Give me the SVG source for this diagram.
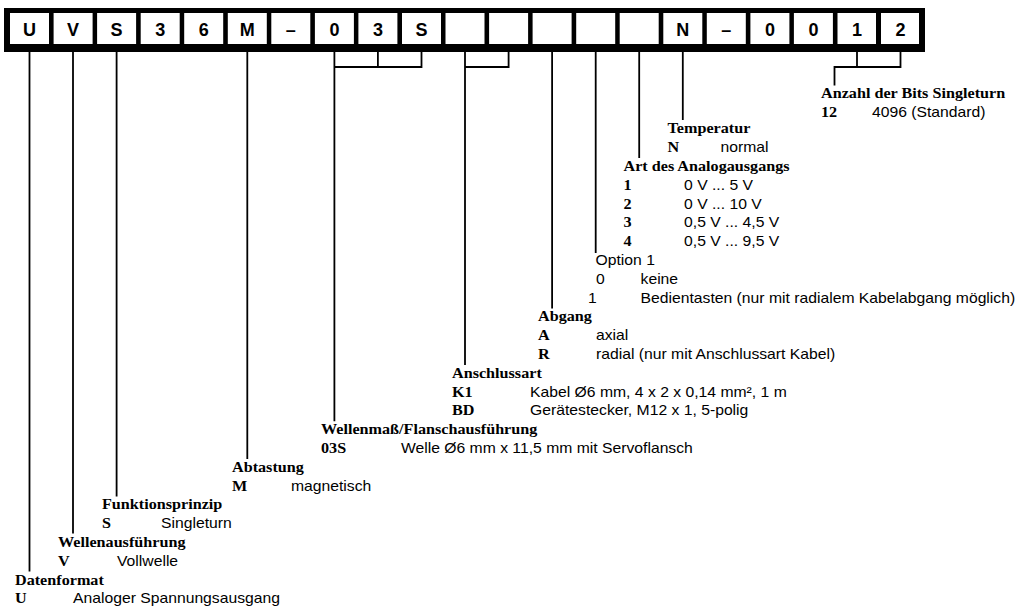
<svg xmlns="http://www.w3.org/2000/svg" width="1018" height="611" viewBox="0 0 1018 611">
<style>
.bg{fill:#fff}
.bar{fill:#000}
.box{fill:#fff}
.bl{font-family:"Liberation Sans",Arial,sans-serif;font-weight:bold;font-size:18px;fill:#000;text-anchor:middle}
.h{font-family:"Liberation Serif","Times New Roman",serif;font-weight:bold;font-size:14.5px;fill:#000}
.c{font-family:"Liberation Serif","Times New Roman",serif;font-weight:bold;font-size:14.5px;fill:#000}
.d{font-family:"Liberation Sans",Arial,sans-serif;font-size:14.1px;fill:#000}
.ln{fill:none;stroke:#000;stroke-width:1.8;stroke-linejoin:miter}
</style>
<rect class="bg" x="0" y="0" width="1018" height="611"/>
<g id="code-bar">
<rect class="bar" x="4" y="8" width="921" height="44"/>
<rect class="box" x="10" y="13" width="39" height="31"/>
<rect class="box" x="53.6" y="13" width="39" height="31"/>
<rect class="box" x="97.1" y="13" width="39" height="31"/>
<rect class="box" x="140.7" y="13" width="39" height="31"/>
<rect class="box" x="184.2" y="13" width="39" height="31"/>
<rect class="box" x="227.8" y="13" width="39" height="31"/>
<rect class="box" x="271.3" y="13" width="39" height="31"/>
<rect class="box" x="314.9" y="13" width="39" height="31"/>
<rect class="box" x="358.4" y="13" width="39" height="31"/>
<rect class="box" x="402" y="13" width="39" height="31"/>
<rect class="box" x="445.5" y="13" width="39" height="31"/>
<rect class="box" x="489.1" y="13" width="39" height="31"/>
<rect class="box" x="532.6" y="13" width="39" height="31"/>
<rect class="box" x="576.2" y="13" width="39" height="31"/>
<rect class="box" x="619.7" y="13" width="39" height="31"/>
<rect class="box" x="663.3" y="13" width="39" height="31"/>
<rect class="box" x="706.8" y="13" width="39" height="31"/>
<rect class="box" x="750.4" y="13" width="39" height="31"/>
<rect class="box" x="793.9" y="13" width="39" height="31"/>
<rect class="box" x="837.5" y="13" width="38.5" height="31"/>
<rect class="box" x="881" y="13" width="38" height="31"/>
<text class="bl" x="29.5" y="35.5">U</text>
<text class="bl" x="73" y="35.5">V</text>
<text class="bl" x="116.6" y="35.5">S</text>
<text class="bl" x="160.2" y="35.5">3</text>
<text class="bl" x="203.7" y="35.5">6</text>
<text class="bl" x="247.3" y="35.5">M</text>
<text class="bl" x="290.8" y="35.5">–</text>
<text class="bl" x="334.4" y="35.5">0</text>
<text class="bl" x="377.9" y="35.5">3</text>
<text class="bl" x="421.5" y="35.5">S</text>
<text class="bl" x="682.8" y="35.5">N</text>
<text class="bl" x="726.3" y="35.5">–</text>
<text class="bl" x="769.9" y="35.5">0</text>
<text class="bl" x="813.4" y="35.5">0</text>
<text class="bl" x="857" y="35.5">1</text>
<text class="bl" x="900.5" y="35.5">2</text>
</g>
<g id="connectors">
<path class="ln" d="M29.5 52V571.5"/>
<path class="ln" d="M73 52V533.5"/>
<path class="ln" d="M116.6 52V496.5"/>
<path class="ln" d="M247.3 52V459"/>
<path class="ln" d="M334.4 52V421.3M377.9 52V67M421.5 52V67H334.4"/>
<path class="ln" d="M465 52V365M508.6 52V67H465"/>
<path class="ln" d="M552.1 52V308.5"/>
<path class="ln" d="M595.7 52V253"/>
<path class="ln" d="M639.2 52V158"/>
<path class="ln" d="M682.8 52V120"/>
<path class="ln" d="M857 52V67M900.5 52V67H834.5V85.5"/>
</g>
<g id="f-datenformat" transform="translate(15,0) scale(1.115,1)">
<text class="h" x="0" y="584.7">Datenformat</text>
<text class="c" x="0" y="603.5">U</text>
<text class="d" x="52" y="603.5">Analoger Spannungsausgang</text>
</g>
<g id="f-wellenausfuehrung" transform="translate(58,0) scale(1.115,1)">
<text class="h" x="0" y="547.1">Wellenausführung</text>
<text class="c" x="0" y="565.9">V</text>
<text class="d" x="52.9" y="565.9">Vollwelle</text>
</g>
<g id="f-funktionsprinzip" transform="translate(102,0) scale(1.115,1)">
<text class="h" x="0" y="509.5">Funktionsprinzip</text>
<text class="c" x="0" y="528.3">S</text>
<text class="d" x="52.9" y="528.3">Singleturn</text>
</g>
<g id="f-abtastung" transform="translate(232,0) scale(1.115,1)">
<text class="h" x="0" y="471.9">Abtastung</text>
<text class="c" x="0" y="490.7">M</text>
<text class="d" x="52.9" y="490.7">magnetisch</text>
</g>
<g id="f-wellenmass" transform="translate(321,0) scale(1.115,1)">
<text class="h" x="0" y="434.3">Wellenmaß/Flanschausführung</text>
<text class="c" x="0" y="453.1">03S</text>
<text class="d" x="71.7" y="453.1">Welle Ø6 mm x 11,5 mm mit Servoflansch</text>
</g>
<g id="f-anschlussart" transform="translate(452,0) scale(1.115,1)">
<text class="h" x="0" y="377.9">Anschlussart</text>
<text class="c" x="0" y="396.7">K1</text>
<text class="d" x="70" y="396.7">Kabel Ø6 mm, 4 x 2 x 0,14 mm², 1 m</text>
<text class="c" x="0" y="415.5">BD</text>
<text class="d" x="70" y="415.5">Gerätestecker, M12 x 1, 5-polig</text>
</g>
<g id="f-abgang" transform="translate(538,0) scale(1.115,1)">
<text class="h" x="0" y="321.5">Abgang</text>
<text class="c" x="0" y="340.3">A</text>
<text class="d" x="52" y="340.3">axial</text>
<text class="c" x="0" y="359.1">R</text>
<text class="d" x="52" y="359.1">radial (nur mit Anschlussart Kabel)</text>
</g>
<g id="f-option1" transform="translate(595.5,0) scale(1.115,1)">
<text class="d" x="0" y="265.1">Option 1</text>
<text class="d" x="0.5" y="283.9">0</text>
<text class="d" x="40.4" y="283.9">keine</text>
<text class="d" x="-6.7" y="302.7">1</text>
<text class="d" x="40.4" y="302.7">Bedientasten (nur mit radialem Kabelabgang möglich)</text>
</g>
<g id="f-analogausgang" transform="translate(623.5,0) scale(1.115,1)">
<text class="h" x="0" y="171.1">Art des Analogausgangs</text>
<text class="c" x="0" y="189.9">1</text>
<text class="d" x="54.3" y="189.9">0 V ... 5 V</text>
<text class="c" x="0" y="208.7">2</text>
<text class="d" x="54.3" y="208.7">0 V ... 10 V</text>
<text class="c" x="0" y="227.5">3</text>
<text class="d" x="54.3" y="227.5">0,5 V ... 4,5 V</text>
<text class="c" x="0" y="246.3">4</text>
<text class="d" x="54.3" y="246.3">0,5 V ... 9,5 V</text>
</g>
<g id="f-temperatur" transform="translate(667.5,0) scale(1.115,1)">
<text class="h" x="0" y="133.5">Temperatur</text>
<text class="c" x="0" y="152.3">N</text>
<text class="d" x="47.5" y="152.3">normal</text>
</g>
<g id="f-bits" transform="translate(821,0) scale(1.115,1)">
<text class="h" x="0" y="98.5">Anzahl der Bits Singleturn</text>
<text class="c" x="0" y="117.3">12</text>
<text class="d" x="45.7" y="117.3">4096 (Standard)</text>
</g>
</svg>
